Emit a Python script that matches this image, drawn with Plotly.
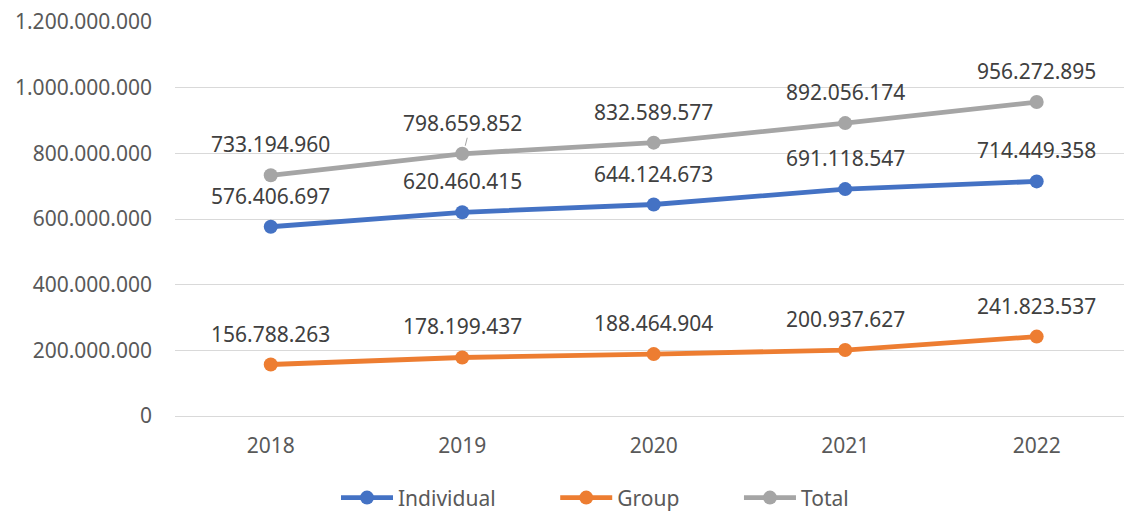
import plotly.graph_objects as go

years = ["2018", "2019", "2020", "2021", "2022"]
individual = [576406697, 620460415, 644124673, 691118547, 714449358]
group = [156788263, 178199437, 188464904, 200937627, 241823537]
total = [733194960, 798659852, 832589577, 892056174, 956272895]
series_names = ["Individual", "Group", "Total"]
series_colors = ["#4472C4", "#ED7D31", "#A5A5A5"]
y_ticks = [0, 200000000, 400000000, 600000000, 800000000, 1000000000, 1200000000]

def fmt(v):
    return f"{v:,}".replace(",", ".")

FONT = "Noto Sans"
PAD = "\u00a0" * 10
fig = go.Figure()
annotations = []
for name, vals, col in zip(series_names, [individual, group, total], series_colors):
    fig.add_trace(go.Scatter(
        x=years, y=vals, name=name + (PAD if name != series_names[-1] else ""),
        mode="lines+markers",
        line=dict(color=col, width=4.8),
        marker=dict(color=col, size=14),
        hoverinfo="skip",
    ))
    for i, yv in enumerate(vals):
        annotations.append(dict(
            x=i, y=yv, xref="x", yref="y", text=fmt(yv), showarrow=False,
            yshift=31, xanchor="center", yanchor="middle",
            font=dict(family=FONT, size=21, color="#404040"),
        ))

fig.update_layout(
    width=1124, height=513,
    margin=dict(l=175, r=0, t=22, b=97, autoexpand=False),
    paper_bgcolor="white", plot_bgcolor="white",
    font=dict(family=FONT, size=21, color="#595959"),
    annotations=annotations,
    showlegend=True,
    legend=dict(orientation="h", x=336 / 1124, xanchor="left", xref="container",
                y=-0.208, yanchor="middle", font=dict(family=FONT, size=21, color="#595959"),
                traceorder="normal", itemwidth=52),
    shapes=[dict(
        type="line", xref="x", yref="y", xsizemode="pixel", ysizemode="pixel",
        xanchor=1, yanchor=total[1], x0=3, y0=8, x1=5, y1=16,
        line=dict(color="#A5A5A5", width=1),
    )],
)
fig.update_xaxes(
    type="category", range=[-0.5, 4.456], showgrid=False,
    showline=False, ticks="", tickfont=dict(size=21, color="#595959"),
    ticklabelstandoff=15,
)
fig.update_yaxes(
    range=[0, 1200000000], tickvals=y_ticks, ticktext=[fmt(v) for v in y_ticks],
    showgrid=True, gridcolor="#D9D9D9", gridwidth=1, zeroline=True,
    zerolinecolor="#D9D9D9", zerolinewidth=1, showline=False, ticks="",
    tickfont=dict(size=21, color="#595959"), ticklabelstandoff=22,
)
fig.write_html("out.html")
